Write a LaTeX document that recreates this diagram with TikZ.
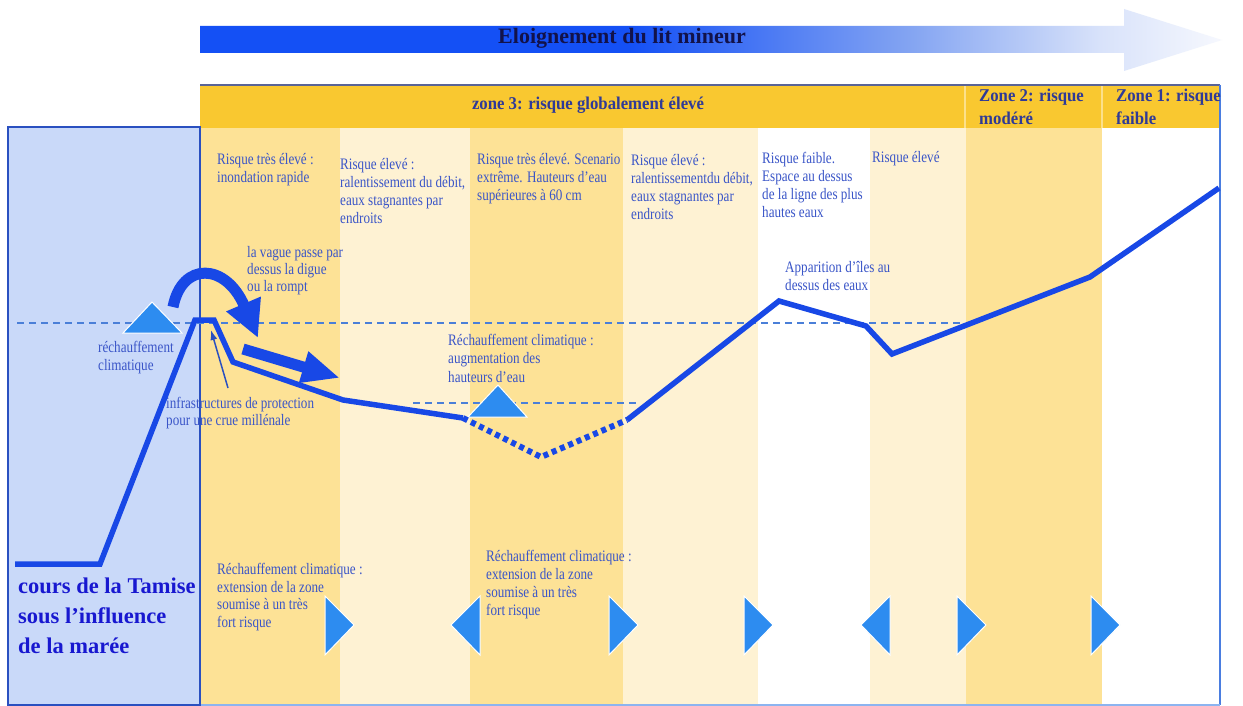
\documentclass[tikz,border=0pt]{standalone}
\usepackage{fontspec}
\setmainfont{Liberation Serif}
\newfontfamily\smallfont{Liberation Serif}[FakeStretch=0.82]
\newfontfamily\hdrfont{Liberation Serif}[FakeStretch=0.93]
\usetikzlibrary{arrows.meta}
\definecolor{medY}{HTML}{FDE296}
\definecolor{creamY}{HTML}{FEF2D3}
\definecolor{hdrY}{HTML}{F9C830}
\definecolor{hdrSep}{HTML}{FCE08A}
\definecolor{panelB}{HTML}{C9D9F9}
\definecolor{lineB}{HTML}{1848E6}
\definecolor{txtB}{HTML}{3A55C8}
\definecolor{triB}{HTML}{2D8CF0}
\definecolor{dashB}{HTML}{4A7FD8}
\definecolor{frameB}{HTML}{2A50C0}
\definecolor{frameTop}{HTML}{5A6496}
\definecolor{frameRight}{HTML}{4A7DE0}
\definecolor{frameBot}{HTML}{8CB4F0}
\definecolor{hdrT}{HTML}{2F3A97}
\definecolor{titleT}{HTML}{12124A}
\definecolor{tamise}{HTML}{1818D0}
\definecolor{arrA}{HTML}{1450F5}
\definecolor{arrB}{HTML}{86A6F2}
\definecolor{arrC}{HTML}{D8E2FA}
\definecolor{arrD}{HTML}{F6F8FE}
\pgfdeclarehorizontalshading{topshade}{100bp}{color(0bp)=(arrA); color(25bp)=(arrA); color(46bp)=(arrA); color(60bp)=(arrB); color(69bp)=(arrC); color(75bp)=(arrD); color(100bp)=(arrD)}
\tikzset{
  lbl/.style={font=\smallfont\fontsize{16}{18}\selectfont, text=txtB, align=left, inner sep=0pt, anchor=north west},
  hdr/.style={font=\hdrfont\bfseries\fontsize{18}{23}\selectfont, text=hdrT, inner sep=0pt},
  ground/.style={draw=lineB, line width=5.5pt, line join=miter},
  wlevel/.style={draw=dashB, line width=1.5pt, dash pattern=on 7pt off 5pt},
  warm/.style={fill=triB, draw=white, line width=1pt},
  bigarrow/.style={draw=lineB, line width=11pt}
}
\begin{document}
\begin{tikzpicture}[x=1pt,y=-1pt]
\useasboundingbox (0,0) rectangle (1243,706);
\fill[white] (0,0) rectangle (1243,706);

% top arrow
\shade[shading=topshade] (200,26) -- (1124,26) -- (1124,9) -- (1222,40) -- (1124,71) -- (1124,53) -- (200,53) -- cycle;
\node[font=\bfseries\fontsize{22}{26}\selectfont, text=titleT, anchor=base, inner sep=0pt] (title) at (622,44) {Eloignement du lit mineur};

% columns
\fill[medY]   (200,128) rectangle (340,705);
\fill[creamY] (340,128) rectangle (470,705);
\fill[medY]   (470,128) rectangle (623,705);
\fill[creamY] (623,128) rectangle (758,705);
\fill[white]  (758,128) rectangle (870,705);
\fill[creamY] (870,128) rectangle (966,705);
\fill[medY]   (966,128) rectangle (1102,705);
\fill[white]  (1102,128) rectangle (1220,705);

% header band
\fill[hdrY] (200,85) rectangle (1220,128);
\draw[hdrSep, line width=2pt] (965,86) -- (965,128);
\draw[hdrSep, line width=2pt] (1102,86) -- (1102,128);

% frame
\draw[frameTop, line width=1.5pt] (200,85) -- (1220,85);
\draw[frameRight, line width=2pt] (1220,85) -- (1220,705);
\draw[frameBot, line width=1.5pt] (200,705) -- (1220,705);

% left panel
\fill[panelB] (8,127) rectangle (200,705);
\draw[frameB, line width=1.5pt] (8,127) rectangle (200,705);

% header texts
\node[hdr, anchor=base] (z3) at (588,110) {zone 3: risque globalement élevé};
\node[hdr, anchor=north west, align=left] (z2) at (979,89) {Zone 2: risque\\modéré};
\node[hdr, anchor=north west, align=left] (z1) at (1116,89) {Zone 1: risque\\faible};

% water level lines
\coordinate (w1a) at (17,323);
\coordinate (w1b) at (960,323);
\draw[wlevel] (w1a) -- (w1b);
\coordinate (w2a) at (413,403);
\coordinate (w2b) at (636,403);
\draw[wlevel] (w2a) -- (w2b);

% text labels
\node[lbl] (t1) at (217,153) {Risque très élevé :\\inondation rapide};
\node[lbl] (t2) at (340,158) {Risque élevé :\\ralentissement du débit,\\eaux stagnantes par\\endroits};
\node[lbl] (t3) at (477,153) {Risque très élevé. Scenario\\extrême. Hauteurs d’eau\\supérieures à 60 cm};
\node[lbl] (t4) at (631,154) {Risque élevé :\\ralentissementdu débit,\\eaux stagnantes par\\endroits};
\node[lbl] (t5) at (762,152) {Risque faible.\\Espace au dessus\\de la ligne des plus\\hautes eaux};
\node[lbl] (t6) at (872,151) {Risque élevé};
\node[lbl, font=\smallfont\fontsize{16}{17}\selectfont] (t7) at (247,246) {la vague passe par\\dessus la digue\\ou la rompt};
\node[lbl] (t8) at (785,261) {Apparition d’îles au\\dessus des eaux};
\node[lbl] (t9) at (98,341) {réchauffement\\climatique};
\node[lbl, font=\smallfont\fontsize{16}{18.5}\selectfont] (t10) at (448,334) {Réchauffement climatique :\\augmentation des\\hauteurs d’eau};
\node[lbl, font=\smallfont\fontsize{16}{17}\selectfont] (t11) at (166,397) {infrastructures de protection\\pour une crue millénale};
\node[lbl, font=\smallfont\fontsize{16}{17.7}\selectfont] (t12) at (217,563) {Réchauffement climatique :\\extension de la zone\\soumise à un très\\fort risque};
\node[lbl] (t13) at (486,550) {Réchauffement climatique :\\extension de la zone\\soumise à un très\\fort risque};

\node[font=\bfseries\fontsize{22.5}{30}\selectfont, text=tamise, align=left, inner sep=0pt, anchor=north west] (tam) at (18,578) {cours de la Tamise\\sous l’influence\\de la marée};

% warming triangles
\filldraw[warm] (123,333) -- (152,302) -- (182,333) -- cycle;
\filldraw[warm] (468,417) -- (498,385) -- (527,417) -- cycle;

% ground profile
\coordinate (g1) at (15,564);
\coordinate (g2) at (100,564);
\coordinate (g3) at (195,320);
\coordinate (g4) at (214,320);
\coordinate (g5) at (233,362);
\coordinate (g6) at (343,400);
\coordinate (g7) at (463,418);
\coordinate (g8) at (541,457);
\coordinate (g9) at (627,420);
\coordinate (g10) at (779,301);
\coordinate (g11) at (866,326);
\coordinate (g12) at (892,354);
\coordinate (g13) at (1090,277);
\coordinate (g14) at (1219,188);
\draw[ground] (g1) -- (g2) -- (g3) -- (g4) -- (g5) -- (g6) -- (g7);
\draw[ground, line width=6pt, dash pattern=on 5pt off 4pt] (g7) -- (g8) -- (g9);
\draw[ground] (g9) -- (g10) -- (g11) -- (g12) -- (g13) -- (g14);

% wave arrows
\coordinate (ca1) at (173,307);
\coordinate (ca2) at (258,338);
\draw[bigarrow, -{Triangle[length=37pt,width=35pt]}] (ca1) .. controls (182,261) and (226,263) .. (ca2);
\coordinate (sa1) at (243,349);
\coordinate (sa2) at (340,378);
\draw[bigarrow, -{Triangle[length=38pt,width=30pt]}] (sa1) -- (sa2);

% thin arrow to dike
\coordinate (ta1) at (228,388);
\coordinate (ta2) at (211,330);
\draw[frameB, line width=1.5pt, -{Latex[length=10pt,width=7pt]}] (ta1) -- (ta2);

% bottom direction triangles
\foreach \b in {325,609,744,957,1091} {
  \filldraw[warm] (\b,596) -- (\b+29,625) -- (\b,655) -- cycle;
}
\foreach \b in {480,890} {
  \filldraw[warm] (\b,596) -- (\b-29,625) -- (\b,655) -- cycle;
}
\end{tikzpicture}
\end{document}
